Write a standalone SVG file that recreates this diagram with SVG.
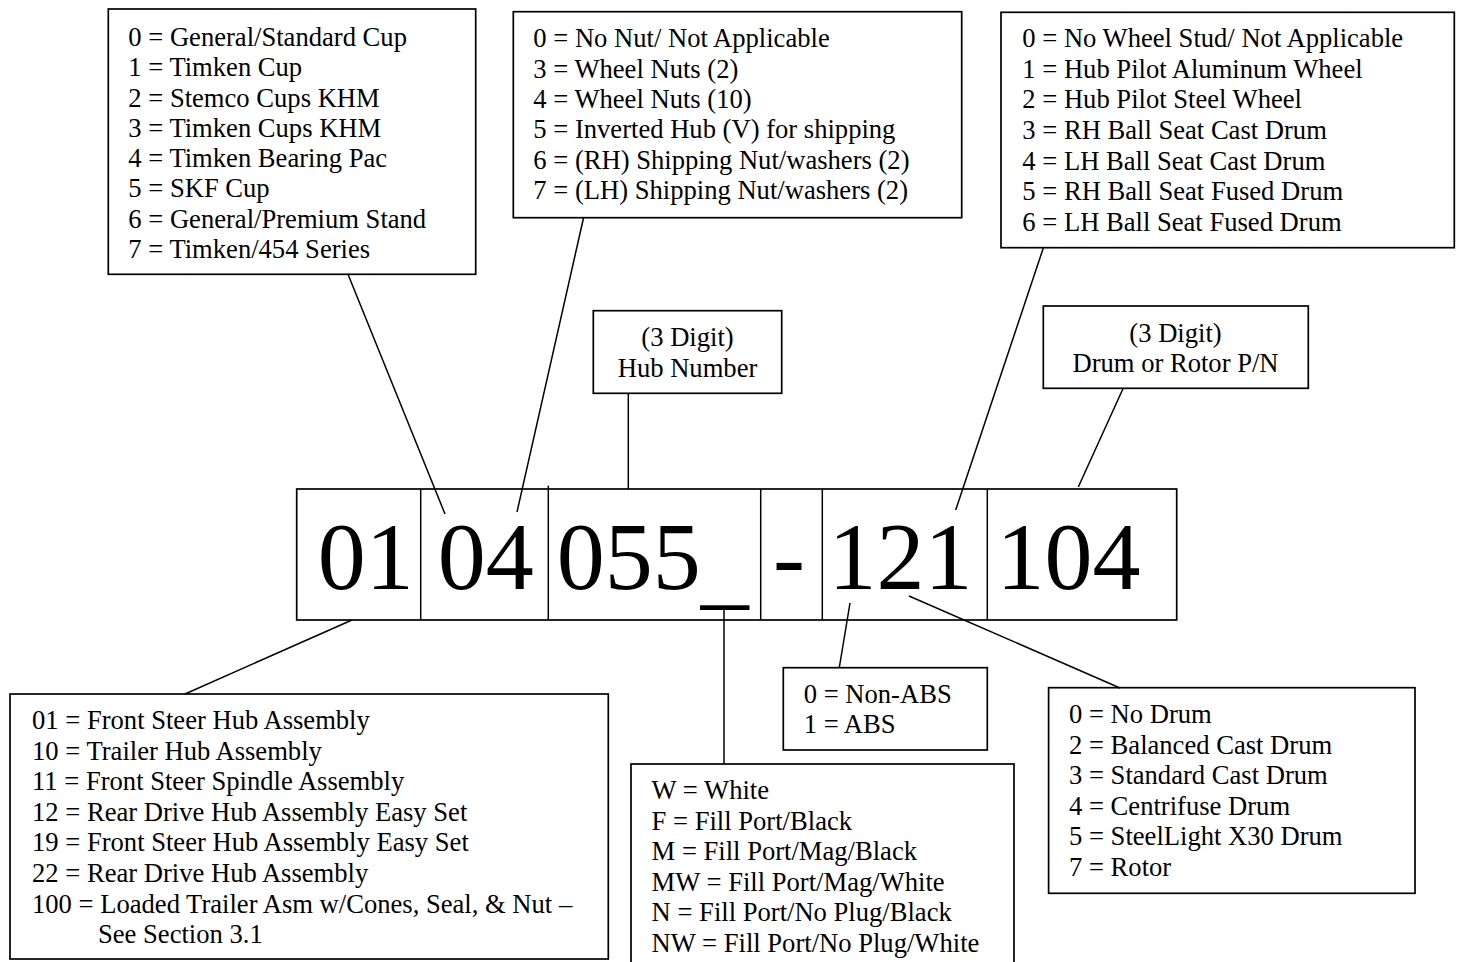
<svg xmlns="http://www.w3.org/2000/svg" width="1459" height="962" viewBox="0 0 1459 962">
<style>
.box{fill:#fff;stroke:#000;stroke-width:1.7}
.ln{stroke:#000;stroke-width:1.5;fill:none}
.t{font-family:"Liberation Serif","Times New Roman",serif;font-size:26.6px;fill:#000}
.c{text-anchor:middle}
.big{font-family:"Liberation Serif","Times New Roman",serif;font-size:96px;fill:#000}
</style>
<rect x="0" y="0" width="1459" height="962" fill="#fff"/>

<g id="box-bearing">
<rect class="box" x="108.3" y="9" width="367.4" height="265.3"/>
<text class="t" x="128.3" y="45.7">0 = General/Standard Cup</text>
<text class="t" x="128.3" y="76">1 = Timken Cup</text>
<text class="t" x="128.3" y="106.6">2 = Stemco Cups KHM</text>
<text class="t" x="128.3" y="137">3 = Timken Cups KHM</text>
<text class="t" x="128.3" y="167">4 = Timken Bearing Pac</text>
<text class="t" x="128.3" y="197.3">5 = SKF Cup</text>
<text class="t" x="128.3" y="227.7">6 = General/Premium Stand</text>
<text class="t" x="128.3" y="258.3">7 = Timken/454 Series</text>
</g>

<g id="box-nut">
<rect class="box" x="513.3" y="11.7" width="448.4" height="206"/>
<text class="t" x="533.3" y="47.3">0 = No Nut/ Not Applicable</text>
<text class="t" x="533.3" y="77.6">3 = Wheel Nuts (2)</text>
<text class="t" x="533.3" y="108">4 = Wheel Nuts (10)</text>
<text class="t" x="533.3" y="138.4">5 = Inverted Hub (V) for shipping</text>
<text class="t" x="533.3" y="168.8">6 = (RH) Shipping Nut/washers (2)</text>
<text class="t" x="533.3" y="199">7 = (LH) Shipping Nut/washers (2)</text>
</g>

<g id="box-stud">
<rect class="box" x="1001" y="12.3" width="453.3" height="235.4"/>
<text class="t" x="1022.3" y="47.3">0 = No Wheel Stud/ Not Applicable</text>
<text class="t" x="1022.3" y="77.8">1 = Hub Pilot Aluminum Wheel</text>
<text class="t" x="1022.3" y="108.3">2 = Hub Pilot Steel Wheel</text>
<text class="t" x="1022.3" y="139">3 = RH Ball Seat Cast Drum</text>
<text class="t" x="1022.3" y="169.6">4 = LH Ball Seat Cast Drum</text>
<text class="t" x="1022.3" y="200">5 = RH Ball Seat Fused Drum</text>
<text class="t" x="1022.3" y="230.7">6 = LH Ball Seat Fused Drum</text>
</g>

<g id="box-hub">
<rect class="box" x="593.3" y="310.7" width="188.4" height="82.6"/>
<text class="t c" x="687.5" y="346">(3 Digit)</text>
<text class="t c" x="687.5" y="376.7">Hub Number</text>
</g>

<g id="box-drum-pn">
<rect class="box" x="1043.3" y="306" width="265" height="82.3"/>
<text class="t c" x="1175.5" y="341.5">(3 Digit)</text>
<text class="t c" x="1175.5" y="371.7">Drum or Rotor P/N</text>
</g>

<g id="code">
<rect class="box" x="296.7" y="489" width="880" height="131"/>
<line class="ln" x1="420.7" y1="489" x2="420.7" y2="620"/>
<line class="ln" x1="548.3" y1="485.7" x2="548.3" y2="620"/>
<line class="ln" x1="760.7" y1="489" x2="760.7" y2="620"/>
<line class="ln" x1="822.3" y1="489" x2="822.3" y2="620"/>
<line class="ln" x1="987.3" y1="489" x2="987.3" y2="620"/>
<text class="big" x="317.7" y="589">01</text>
<text class="big" x="437.7" y="589">04</text>
<text class="big" x="556.7" y="589">055<tspan dy="9">_</tspan></text>
<text class="big" x="773" y="589">-</text>
<text class="big" x="828.6" y="589">121</text>
<text class="big" x="996.6" y="589">104</text>
</g>

<g id="box-type">
<rect class="box" x="10" y="694" width="598.3" height="265"/>
<text class="t" x="32" y="729">01 = Front Steer Hub Assembly</text>
<text class="t" x="32" y="759.6">10 = Trailer Hub Assembly</text>
<text class="t" x="32" y="790.2">11 = Front Steer Spindle Assembly</text>
<text class="t" x="32" y="820.8">12 = Rear Drive Hub Assembly Easy Set</text>
<text class="t" x="32" y="851.4">19 = Front Steer Hub Assembly Easy Set</text>
<text class="t" x="32" y="882">22 = Rear Drive Hub Assembly</text>
<text class="t" x="32" y="912.6">100 = Loaded Trailer Asm w/Cones, Seal, &amp; Nut –</text>
<text class="t" x="98" y="943.2">See Section 3.1</text>
</g>

<g id="box-paint">
<rect class="box" x="631" y="764" width="383" height="210"/>
<text class="t" x="651.6" y="799">W = White</text>
<text class="t" x="651.6" y="829.6">F = Fill Port/Black</text>
<text class="t" x="651.6" y="860.2">M = Fill Port/Mag/Black</text>
<text class="t" x="651.6" y="890.8">MW = Fill Port/Mag/White</text>
<text class="t" x="651.6" y="921.4">N = Fill Port/No Plug/Black</text>
<text class="t" x="651.6" y="952">NW = Fill Port/No Plug/White</text>
</g>

<g id="box-abs">
<rect class="box" x="783.3" y="667.7" width="204" height="82.3"/>
<text class="t" x="803.7" y="702.7">0 = Non-ABS</text>
<text class="t" x="803.7" y="733">1 = ABS</text>
</g>

<g id="box-drum">
<rect class="box" x="1048.6" y="687.7" width="366.4" height="205.6"/>
<text class="t" x="1069" y="723.3">0 = No Drum</text>
<text class="t" x="1069" y="753.8">2 = Balanced Cast Drum</text>
<text class="t" x="1069" y="784.3">3 = Standard Cast Drum</text>
<text class="t" x="1069" y="814.8">4 = Centrifuse Drum</text>
<text class="t" x="1069" y="845.3">5 = SteelLight X30 Drum</text>
<text class="t" x="1069" y="875.8">7 = Rotor</text>
</g>

<g id="connectors">
<line class="ln" x1="348.3" y1="275" x2="445" y2="514"/>
<line class="ln" x1="583.5" y1="218" x2="517" y2="512"/>
<line class="ln" x1="628.3" y1="393" x2="628.3" y2="489"/>
<line class="ln" x1="1043.3" y1="248" x2="955.7" y2="510"/>
<line class="ln" x1="1123.3" y1="388" x2="1078.3" y2="487"/>
<line class="ln" x1="352" y1="620" x2="185" y2="694"/>
<line class="ln" x1="724" y1="607" x2="724" y2="764"/>
<line class="ln" x1="850" y1="603" x2="839.4" y2="667"/>
<line class="ln" x1="909" y1="596" x2="1120" y2="688"/>
</g>
</svg>
